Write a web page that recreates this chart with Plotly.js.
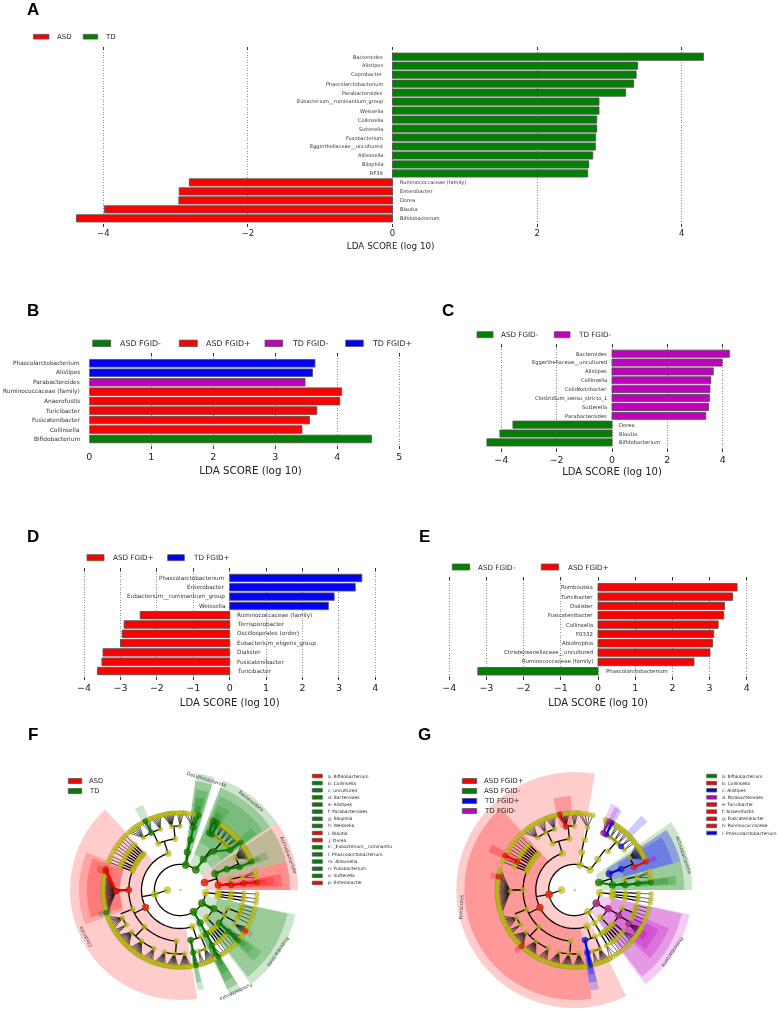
<!DOCTYPE html>
<html>
<head>
<meta charset="utf-8">
<script src="https://cdn.plot.ly/plotly-3.0.1.min.js"></script>
<style>html,body{margin:0;padding:0;background:#fff}#chart{width:780px;height:1018px;filter:blur(0.3px)}</style>
</head>
<body>
<div id="chart"></div>
<script>
// ---------- Bar panel data ----------
const aNames = ["Bacteroides","Alistipes","Coprobacter","Phascolarctobacterium","Parabacteroides","Eubacterium__ruminantium_group","Weissella","Collinsella","Sutterella","Fusobacterium","Eggerthellaceae__uncultured","Allisonella","Bilophila","RF39","Ruminococcaceae (family)","Enterobacter","Dorea","Blautia","Bifidobacterium"];
const aScores = [4.30,3.39,3.37,3.335,3.225,2.856,2.856,2.825,2.825,2.81,2.805,2.77,2.715,2.70,-2.81,-2.95,-2.955,-3.985,-4.37];
const aGroups = ["TD","TD","TD","TD","TD","TD","TD","TD","TD","TD","TD","TD","TD","TD","ASD","ASD","ASD","ASD","ASD"];

const bNames = ["Phascolarctobacterium","Alistipes","Parabacteroides","Ruminococcaceae (family)","Anaerofustis","Turicibacter","Fusicatenibacter","Collinsella","Bifidobacterium"];
const bScores = [3.64,3.60,3.48,4.07,4.04,3.67,3.55,3.43,4.55];
const bGroups = ["TD FGID+","TD FGID+","TD FGID-","ASD FGID+","ASD FGID+","ASD FGID+","ASD FGID+","ASD FGID+","ASD FGID-"];

const cNames = ["Bacteroides","Eggerthellaceae__uncultured","Alistipes","Collinsella","Colidextribacter","Clostridium_sensu_stricto_1","Sutterella","Parabacteroides","Dorea","Blautia","Bifidobacterium"];
const cScores = [4.24,3.98,3.66,3.57,3.54,3.52,3.49,3.39,-3.58,-4.05,-4.52];
const cGroups = ["TD FGID-","TD FGID-","TD FGID-","TD FGID-","TD FGID-","TD FGID-","TD FGID-","TD FGID-","ASD FGID-","ASD FGID-","ASD FGID-"];

const dNames = ["Phascolarctobacterium","Enterobacter","Eubacterium__ruminantium_group","Weissella","Ruminococcaceae (family)","Terrisporobacter","Oscillospirales (order)","Eubacterium_eligens_group","Dialister","Fusicatenibacter","Turicibacter"];
const dScores = [3.63,3.45,2.87,2.71,-2.46,-2.90,-2.955,-3.0,-3.48,-3.51,-3.63];
const dGroups = ["TD FGID+","TD FGID+","TD FGID+","TD FGID+","ASD FGID+","ASD FGID+","ASD FGID+","ASD FGID+","ASD FGID+","ASD FGID+","ASD FGID+"];

const eNames = ["Romboutsia","Turicibacter","Dialister","Fusicatenibacter","Collinsella","F0332","Abiotrophia","Christensenellaceae__uncultured","Ruminococcaceae (family)","Phascolarctobacterium"];
const eScores = [3.74,3.62,3.40,3.38,3.23,3.11,3.08,3.01,2.58,-3.23];
const eGroups = ["ASD FGID+","ASD FGID+","ASD FGID+","ASD FGID+","ASD FGID+","ASD FGID+","ASD FGID+","ASD FGID+","ASD FGID+","ASD FGID-"];

// ---------- Cladogram taxonomy (shared tree): [angle, children] ----------
const actinobacteriota = [17, [
  [7.4, [[5.6, [[6, [5.7]]]], [12, [[11.5, [9, 12, 14]]]]]],
  [25, [[24, [[21, [21.6]], [30, [23.5, 25, 26, 27, 28, 29, 30, 31, 32, 33, 34, 35, 36.5]]]]]]
]];
const bacteroidota = [52, [
  [52.7, [[49, [[38.6, [38, 40]], [43, [41.5, 42.5, 44]], [47, [45.5, 47, 48.5]], [51, [50, 51.5, 53]], [55.5, [54.5, 56, 57.5]], [60, [59, 60.7, 62]], [63, [63, 64.5, 66]]]]]]
]];
const desulfobacterota = [77, [
  [79, [[78, [[78, [76, 79, 82, 85, 87]]]]]]
]];
const firmicutes = [190, [
  [108, [
    [95.5, [[97.5, [94, 95, 96, 97, 98, 99, 100, 100.8, 102, 103]], [90, [87.5, 89, 90.5, 92]]]],
    [115, [[108, [104.5, 106, 107.5, 109, 110.5, 112]], [116.6, [113, 114.5, 116.6, 118, 120]], [125, [122, 123.5, 125, 126.5, 128, 130, 132]]]]
  ]],
  [207, [
    [135, [[135, [135]]]], [137.5, [[137.5, [137.5]]]], [140, [[140, [140]]]], [142.5, [[142.5, [142.5]]]], [145, [[145, [145]]]],
    [147.5, [[147.5, [147.5]]]], [150, [[150, [150]]]], [153.5, [[153.5, [153.5]]]], [156, [[156, [156]]]], [158.5, [[158.5, [158.5]]]],
    [180, [[181, [164, 166, 168, 169.2, 170, 171.3, 172.5, 173.7, 175, 176.2, 177.4, 178.6, 179.8, 181, 182.2, 183.4, 184.6, 185.8, 187, 188.2, 189.4, 190.6, 191.8, 193, 194.2, 195.4, 197, 198.5]]]],
    [202, [[206, [200, 201.5, 203, 204.5, 206, 207.5, 209, 210.5]], [213, [211.5, 212.5, 214, 215]]]],
    [226, [[221, [216, 217.2, 218.4, 219.6, 220.8, 222, 223.2, 224.4, 225.6, 226.8, 228]], [233, [229.2, 230.4, 231.6, 232.8, 234, 235.2, 236.4, 237.6, 238.8, 240]], [246, [241.5, 243, 244.5, 246, 247.5, 249]]]],
    [266, [[256, [250.5, 251.7, 252.9, 254.1, 255.3, 256.5, 257.7, 258.9]], [265, [260, 261.2, 262.4, 263.6, 264.8, 266, 267.2, 268.4]], [274, [269.6, 270.8, 272, 273.2, 274.4, 275.6, 276.8, 278]]]]
  ]],
  [289, [
    [282, [[282, [280, 282, 284]]]],
    [294, [[287, [285.5, 287, 288.5]], [293, [289.7, 290.9, 292.1, 293.3, 294.5, 295.7, 297]]]]
  ]]
]];
const fusobacteriota = [302, [
  [301.5, [[301, [[300, [297.5, 300, 303]]]]]]
]];
const proteobacteria = [329, [
  [331, [
    [339, [[346, [346]], [343, [343]], [340, [340]], [337, [337]], [334, [334]]]],
    [330, [[328, [325, 326, 327, 328, 329, 330, 331]]]],
    [320, [[319.4, [317, 319, 321, 323]]]]
  ]],
  [314, [[316, [[316, [315]]]], [313, [[313, [313]]]], [310, [[310, [310]]]], [307, [[307, [307]]]], [304.5, [[304.5, [305]]]]]]
]];
const otherPhylum = [354, [
  [357, [[357, [[357, [357]]]]]],
  [353.5, [[353.5, [[353.5, [353.5]]]]]],
  [350.5, [[350.5, [[350.5, [350.5]]]]]]
]];

// ---------- Cladogram sectors: [from, to, inner, outer, colour, alpha] ----------
const fSectors = [
  [133,279,38.5,110,"ASD",0.2],[158,200,60,101,"ASD",0.2],[160,197,60,93,"ASD",0.25],[163,168,72,85,"ASD",0.3],[195,198.5,72,85,"TD",0.3],
  [0,35,26,118,"ASD",0.2],[0,15,38.5,110,"ASD",0.3],[2,9,50,102,"ASD",0.25],[3,8,60,94,"ASD",0.25],[4,7,72,86,"ASD",0.3],
  [15,34,38.5,110,"TD",0.25],[19,24,60,94,"TD",0.2],[20,23,72,86,"TD",0.25],
  [35,68.5,26,118,"TD",0.2],[35,68.5,38.5,110,"TD",0.25],[36,67,51,102,"TD",0.2],[36,41,64,94,"TD",0.2],[58,66,64,93,"TD",0.2],[60,65,72,86,"TD",0.25],
  [73,82,26,118,"TD",0.2],[73,82,38.5,110,"TD",0.25],[74,81,51,102,"TD",0.25],[75,80,64,94,"TD",0.25],[76,79,72,86,"TD",0.3],
  [-53,-12,26,118,"TD",0.2],[-52,-12.5,38.5,110,"TD",0.25],[-44,-37,51,102,"TD",0.2],[-43,-38,64,93,"TD",0.2],[-42,-39,72,85,"TD",0.25],[-34,-30,72,85,"ASD",0.2],
  [-64.5,-58.5,26,118,"TD",0.2],[-64.5,-58.5,38.5,110,"TD",0.25],[-64,-59,51,102,"TD",0.25],[-63.5,-59,64,94,"TD",0.25],[-62.5,-59.5,72,86,"TD",0.3],
  [-80,-76.5,51,102,"TD",0.2],[-80,-77,60,94,"TD",0.25],[113.5,119,78,93,"TD",0.2]
];
const gSectors = [
  [80,296,26,118,"ASD FGID+",0.2],[132,279,38.5,110,"ASD FGID+",0.25],[92,103,64,94,"ASD FGID+",0.25],[151,156,66,94,"ASD FGID+",0.3],[168,172,72,85,"ASD FGID+",0.25],[224.5,228,72,85,"ASD FGID+",0.3],
  [-81,-76,51,102,"TD FGID+",0.2],[-81,-76,60,94,"TD FGID+",0.25],[-80,-76.5,66,86,"TD FGID+",0.3],
  [0,35,26,118,"ASD FGID-",0.2],[0,15,38.5,110,"ASD FGID-",0.25],[3,8,60,102,"ASD FGID-",0.25],[3.5,7.5,64,94,"ASD FGID-",0.25],
  [15,33,38.5,110,"TD FGID+",0.3],[15,31,51,102,"TD FGID+",0.22],[20,23,76,88,"TD FGID-",0.35],
  [43,48,78,100,"TD FGID+",0.2],[59,64,70,92,"TD FGID+",0.2],[61,67,72,94,"TD FGID-",0.2],
  [-53,-12,26,118,"TD FGID-",0.2],[-52,-12.5,38.5,110,"TD FGID-",0.25],[-42,-22,51,102,"TD FGID-",0.25],[-40,-25,64,93,"TD FGID-",0.25],[-36,-30,72,85,"TD FGID-",0.3]
];

// ---------- Cladogram biomarkers: paths of [ring, angle] ----------
const fBiomarkers = {
  "ASD": [
    [[2,7.4],[3,5.6],[4,6],[5,5.7]],
    [[1,17]],
    [[2,207]],
    [[3,180],[4,181],[5,164]],
    [[4,181],[5,166]],
    [[5,-32]]
  ],
  "TD": [
    [[2,25],[3,24],[4,21],[5,21.6]],
    [[1,52],[2,52.7],[3,49],[4,38.6],[5,38]],
    [[4,63],[5,63]],[[4,60],[5,60.7]],[[5,64.5]],
    [[1,77],[2,79],[3,78],[4,78],[5,76]],
    [[1,-31],[2,-29]],
    [[3,-40],[4,-40.6],[5,-41]],
    [[1,-58],[2,-58.5],[3,-59],[4,-60],[5,-60]],
    [[3,282],[4,282],[5,282]],
    [[4,116.6],[5,116.6]],
    [[5,197]]
  ]
};
const gBiomarkers = {
  "ASD FGID-": [[[1,17],[2,7.4],[3,5.6],[4,6],[5,5.7]]],
  "TD FGID+": [
    [[2,25],[3,24]],
    [[4,43]],
    [[4,60],[5,60.7]],
    [[3,282],[4,282],[5,282]]
  ],
  "ASD FGID+": [
    [[1,190]],[[2,207]],
    [[4,21],[5,21.6]],
    [[4,153.5],[5,153.5]],
    [[5,170]],
    [[4,97.5],[5,100.8]],
    [[5,226.8]]
  ],
  "TD FGID-": [
    [[1,-31]],[[2,-29]],[[3,-30]],[[4,-32]],
    [[4,63],[5,63]]
  ]
};

// ---------- Legends ----------
const fLegendNames = ["a: Bifidobacterium","b: Collinsella","c: uncultured","d: Bacteroides","e: Alistipes","f: Parabacteroides","g: Bilophila","h: Weissella","i: Blautia","j: Dorea","k: _Eubacterium__ruminantiu","l: Phascolarctobacterium","m: Allisonella","n: Fusobacterium","o: Sutterella","p: Enterobacter"];
const fLegendGroups = ["ASD","TD","TD","TD","TD","TD","TD","TD","ASD","ASD","TD","TD","TD","TD","TD","ASD"];
const gLegendNames = ["a: Bifidobacterium","b: Collinsella","c: Alistipes","d: Parabacteroides","e: Turicibacter","f: Anaerofustis","g: Fusicatenibacter","h: Ruminococcaceae","i: Phascolarctobacterium"];
const gLegendGroups = ["ASD FGID-","ASD FGID+","TD FGID+","TD FGID-","ASD FGID+","ASD FGID+","ASD FGID+","ASD FGID+","TD FGID+"];

const palette = {"ASD":"255,0,0","TD":"0,128,0","ASD FGID+":"255,0,0","ASD FGID-":"0,128,0","TD FGID+":"0,0,255","TD FGID-":"191,0,191"};
const solid = g => "rgb(" + palette[g] + ")";

// ---------- Layout helpers ----------
const W = 780, H = 1018, FONT = "DejaVu Sans, sans-serif";
const px = x => x / W, py = y => 1 - y / H;
const traces = [];
const layout = {
  width: W, height: H, margin: {l:0,r:0,t:0,b:0}, paper_bgcolor: "#fff", plot_bgcolor: "rgba(0,0,0,0)",
  showlegend: false, font: {family: FONT, color: "#222"}, annotations: [], shapes: []
};

function note(x, y, text, size, opts) {
  layout.annotations.push(Object.assign({
    xref:"paper", yref:"paper", x:px(x), y:py(y), text:text, showarrow:false,
    xanchor:"left", yanchor:"middle", font:{size:size, family:FONT, color:"#2a2a2a"}, align:"left"
  }, opts || {}));
}
function swatch(x0, x1, y, h, group) {
  layout.shapes.push({type:"rect", xref:"paper", yref:"paper", x0:px(x0), x1:px(x1), y0:py(y-h/2), y1:py(y+h/2),
    fillcolor:solid(group), line:{color:"#555", width:0.8}});
}

function barPanel(i, cfg) {
  const sfx = i === 1 ? "" : String(i);
  const left = cfg.zero + cfg.unit * cfg.xr[0], right = cfg.zero + cfg.unit * cfg.xr[1];
  traces.push({type:"bar", orientation:"h", x:cfg.scores, y:cfg.names, xaxis:"x"+sfx, yaxis:"y"+sfx, width:0.8,
    marker:{color:cfg.groups.map(solid), line:{color:"#555", width:0.9}}, hoverinfo:"skip"});
  layout["xaxis"+sfx] = {
    domain:[px(left), px(right)], range:cfg.xr, anchor:"y"+sfx, tickvals:cfg.ticks, ticks:"inside", ticklen:3, tickwidth:1, tickcolor:"#333",
    mirror:"ticks", showline:false, zeroline:false, showgrid:true, gridcolor:"#777", griddash:"1px,1.6px", gridwidth:0.8,
    tickfont:{size:cfg.tickSize, family:FONT, color:"#222"},
    title:{text:"LDA SCORE (log 10)", font:{size:cfg.titleSize, family:FONT, color:"#222"}, standoff:cfg.standoff}
  };
  const y0 = (cfg.top - cfg.first) / cfg.pitch, y1 = (cfg.bot - cfg.first) / cfg.pitch;
  layout["yaxis"+sfx] = {
    domain:[py(cfg.bot), py(cfg.top)], type:"category", categoryorder:"array", categoryarray:cfg.names, range:[y1, y0], anchor:"x"+sfx,
    showticklabels:false, ticks:"", showgrid:false, zeroline:false, showline:false
  };
  cfg.names.forEach((n, k) => {
    const pos = cfg.scores[k] >= 0;
    layout.annotations.push({xref:"x"+sfx, yref:"y"+sfx, x:0, y:n, text:n, showarrow:false,
      xanchor:pos?"right":"left", yanchor:"middle", xshift:pos?-cfg.gapL:cfg.gapR,
      font:{size:cfg.labelSize, family:FONT, color:"#333"}});
  });
}

barPanel(1, {names:aNames, scores:aScores, groups:aGroups, zero:392.5, unit:72.3, xr:[-4.85,4.8], ticks:[-4,-2,0,2,4], top:46.7, bot:226.7, first:56.7, pitch:8.98, tickSize:8.5, titleSize:8.8, standoff:5.5, labelSize:5, gapL:7.5, gapR:5.5});
barPanel(2, {names:bNames, scores:bScores, groups:bGroups, zero:89.3, unit:62, xr:[0,5.2], ticks:[0,1,2,3,4,5], top:353, bot:449, first:363.3, pitch:9.46, tickSize:9.5, titleSize:10.3, standoff:6, labelSize:5.8, gapL:7, gapR:5});
barPanel(3, {names:cNames, scores:cScores, groups:cGroups, zero:612, unit:27.67, xr:[-4.8,4.8], ticks:[-4,-2,0,2,4], top:344, bot:452, first:353.7, pitch:8.87, tickSize:9.5, titleSize:10, standoff:4, labelSize:5.2, gapL:3, gapR:5});
barPanel(4, {names:dNames, scores:dScores, groups:dGroups, zero:229.7, unit:36.4, xr:[-4.2,4.2], ticks:[-4,-3,-2,-1,0,1,2,3,4], top:568.3, bot:680, first:578, pitch:9.3, tickSize:9.5, titleSize:10, standoff:6.5, labelSize:5.7, gapL:3, gapR:5});
barPanel(5, {names:eNames, scores:eScores, groups:eGroups, zero:598, unit:37.2, xr:[-4.2,4.2], ticks:[-4,-3,-2,-1,0,1,2,3,4], top:577.3, bot:680, first:587.3, pitch:9.33, tickSize:9.5, titleSize:10, standoff:6.5, labelSize:5.4, gapL:3.3, gapR:5.7});

// ---------- Cladograms ----------
const ringRadii = [12.7, 25.6, 38.5, 51.2, 64, 77];
const nodeSizes = [7, 7, 6.5, 5.5, 5, 5];
const markSizes = [7, 7.2, 6.8, 6.2, 5.8, 5.2];
const allPhyla = [actinobacteriota, bacteroidota, desulfobacterota, firmicutes, fusobacteriota, proteobacteria, otherPhylum];

function arc(r, from, to) {
  const th = [], rr = [];
  const n = Math.max(2, Math.ceil(Math.abs(to - from) / 2));
  for (let k = 0; k <= n; k++) { th.push(from + (to - from) * k / n); rr.push(r); }
  return {th, rr};
}

function cladogram(sp, cx, cy, sectors, biomarkers) {
  const R = 128;
  layout[sp] = {
    domain:{x:[px(cx-R), px(cx+R)], y:[py(cy+R), py(cy-R)]}, bgcolor:"rgba(0,0,0,0)", barmode:"overlay",
    radialaxis:{visible:false, range:[0,R]}, angularaxis:{visible:false, rotation:0, direction:"counterclockwise", thetaunit:"degrees"}
  };
  traces.push({type:"barpolar", subplot:sp, hoverinfo:"skip",
    r:sectors.map(s => s[3]-s[2]), base:sectors.map(s => s[2]), theta:sectors.map(s => (s[0]+s[1])/2), width:sectors.map(s => s[1]-s[0]),
    marker:{color:sectors.map(s => "rgba(" + palette[s[4]] + "," + s[5] + ")"), line:{width:0}}});

  const heavy = {r:[], t:[]}, light = {r:[], t:[]}, nodes = {r:[], t:[], s:[]};
  const seg = (o, rs, ts) => { o.r.push(...rs, null); o.t.push(...ts, null); };
  function walk(node, level) {
    const theta = node[0], kids = node[1];
    nodes.r.push(ringRadii[level]); nodes.t.push(theta); nodes.s.push(nodeSizes[level]);
    if (!kids || !kids.length) return;
    if (level === 4) {
      kids.forEach(g => {
        seg(light, [ringRadii[4], ringRadii[5]], [theta, g]);
        nodes.r.push(ringRadii[5]); nodes.t.push(g); nodes.s.push(nodeSizes[5]);
      });
      return;
    }
    const rc = ringRadii[level+1], ths = kids.map(c => c[0]);
    seg(heavy, [ringRadii[level], rc], [theta, theta]);
    const a = arc(rc, Math.min(...ths), Math.max(...ths));
    seg(heavy, a.rr, a.th);
    kids.forEach(c => walk(c, level+1));
  }
  // root, kingdom and the phylum ring
  nodes.r.push(0.5); nodes.t.push(0); nodes.s.push(2);
  nodes.r.push(ringRadii[0]); nodes.t.push(180); nodes.s.push(nodeSizes[0]);
  seg(heavy, [ringRadii[0], ringRadii[1]], [180, 190]);
  const ring = arc(ringRadii[1], 52, 354);
  seg(heavy, ring.rr, ring.th);
  allPhyla.forEach(p => walk(p, 1));

  traces.push({type:"scatterpolar", subplot:sp, mode:"lines", r:light.r, theta:light.t, line:{color:"#111", width:0.65}, hoverinfo:"skip"});
  traces.push({type:"scatterpolar", subplot:sp, mode:"lines", r:heavy.r, theta:heavy.t, line:{color:"#000", width:1.3}, hoverinfo:"skip"});
  traces.push({type:"scatterpolar", subplot:sp, mode:"markers", r:nodes.r, theta:nodes.t, hoverinfo:"skip",
    marker:{size:nodes.s, color:"#c4c400", line:{color:"#666", width:0.3}}});

  Object.keys(biomarkers).forEach(g => {
    const lr = [], lt = [], mr = [], mt = [], ms = [];
    biomarkers[g].forEach(path => {
      path.forEach(p => { lr.push(ringRadii[p[0]]); lt.push(p[1]); mr.push(ringRadii[p[0]]); mt.push(p[1]); ms.push(markSizes[p[0]]); });
      lr.push(null); lt.push(null);
    });
    traces.push({type:"scatterpolar", subplot:sp, mode:"lines", r:lr, theta:lt, line:{color:solid(g), width:2}, hoverinfo:"skip"});
    traces.push({type:"scatterpolar", subplot:sp, mode:"markers", r:mr, theta:mt, hoverinfo:"skip",
      marker:{size:ms, color:solid(g), line:{color:"#222", width:0.4}}});
  });
}
cladogram("polar", 180, 890, fSectors, fBiomarkers);
cladogram("polar2", 574.3, 890, gSectors, gBiomarkers);

// ---------- Legends, labels, letters ----------
swatch(33.5,49,36.7,4.7,"ASD"); note(54.5,36.7,"ASD",7);
swatch(83.3,97.7,36.7,4.7,"TD"); note(103.3,36.7,"TD",7);

[[92.7,110.7,117.7,"ASD FGID-"],[179.3,197.3,203.7,"ASD FGID+"],[265,282.7,289.7,"TD FGID-"],[345.7,363.3,370,"TD FGID+"]]
  .forEach(l => { swatch(l[0],l[1],343.3,6.4,l[3]); note(l[2],343.3,l[3],7.9); });
[[477,493,499.3,"ASD FGID-"],[554.3,570,576,"TD FGID-"]]
  .forEach(l => { swatch(l[0],l[1],334.7,6,l[3]); note(l[2],334.7,l[3],7.2); });
[[87,104,111,"ASD FGID+"],[167.7,184.3,191,"TD FGID+"]]
  .forEach(l => { swatch(l[0],l[1],557.7,6,l[3]); note(l[2],557.7,l[3],7.2); });
[[452.3,469.7,476.3,"ASD FGID-"],[541.3,558.7,565.7,"ASD FGID+"]]
  .forEach(l => { swatch(l[0],l[1],567,6,l[3]); note(l[2],567,l[3],7.2); });

swatch(68.3,81.7,781,5,"ASD"); note(87.3,781,"ASD",6.8);
swatch(68.3,81.7,791,5,"TD"); note(87.3,791,"TD",6.8);
["ASD FGID+","ASD FGID-","TD FGID+","TD FGID-"].forEach((g,k) => {
  swatch(462.3,476.7,781+k*10,5,g); note(481.7,781+k*10,g,7);
});
fLegendNames.forEach((n,k) => { const y = 776+k*7.13; swatch(312.3,322.3,y,3.5,fLegendGroups[k]); note(326,y,n,4.4); });
gLegendNames.forEach((n,k) => { const y = 776+k*7.13; swatch(706.7,716.7,y,3.5,gLegendGroups[k]); note(720,y,n,4.4); });

[[206.7,779.3,"Desulfobacterota",17],[251.7,801,"Bacteroidota",38.6],[289,855,"Actinobacteriota",69],[277.7,951.7,"Proteobacteria",124.5],[235.7,991.7,"Fusobacteriota",155],[86,936.7,"Clostridia",-117],
 [684,855,"Actinobacteriota",71],[672.3,951.7,"Proteobacteria",124],[461.7,906.7,"Firmicutes",-88]]
  .forEach(l => note(l[0],l[1],l[2],4.8,{xanchor:"center", textangle:l[3], font:{size:4.8,family:FONT,color:"#444"}}));

[["A",33,9],["B",33,310],["C",448,310],["D",33,536],["E",425,536],["F",33,734],["G",425,734]]
  .forEach(l => note(l[1],l[2],l[0],17,{xanchor:"center", font:{size:17,family:"Liberation Sans, Arial, sans-serif",color:"#000",weight:700}, text:"<b>"+l[0]+"</b>"}));

Plotly.newPlot("chart", traces, layout, {staticPlot:true, displayModeBar:false});
</script>
</body>
</html>
